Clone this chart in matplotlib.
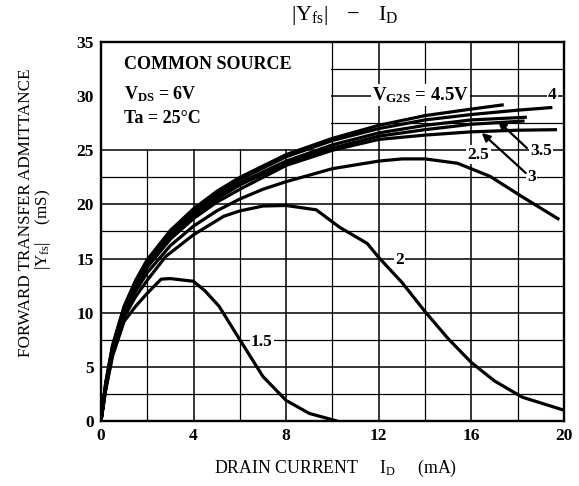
import matplotlib
matplotlib.use("Agg")
import matplotlib.pyplot as plt
from matplotlib.patches import Rectangle

plt.rcParams['font.family'] = ['Liberation Serif', 'DejaVu Serif']
plt.rcParams['mathtext.fontset'] = 'custom'
plt.rcParams['mathtext.rm'] = 'Liberation Serif'
plt.rcParams['mathtext.bf'] = 'Liberation Serif:bold'

# |Yfs| (mS) vs ID (mA) for each VG2S
x_45 = [0, 0.2, 0.5, 1, 1.5, 2, 3, 4, 5, 6, 8, 10, 12, 14, 16, 17.4]
y_45 = [0, 3.5, 7.0, 10.6, 13.0, 14.9, 17.6, 19.6, 21.2, 22.5, 24.6, 26.1, 27.3, 28.2, 28.8, 29.2]

x_4 = [0, 0.2, 0.5, 1, 1.5, 2, 3, 4, 5, 6, 8, 10, 12, 14, 16, 18, 19.5]
y_4 = [0, 3.4, 6.9, 10.5, 12.9, 14.8, 17.5, 19.5, 21.0, 22.3, 24.4, 25.9, 27.0, 27.8, 28.3, 28.7, 28.95]

x_x = [0, 0.2, 0.5, 1, 1.5, 2, 3, 4, 5, 6, 8, 10, 12, 14, 16, 18.4]
y_x = [0, 3.3, 6.8, 10.4, 12.8, 14.6, 17.3, 19.2, 20.7, 22.0, 24.0, 25.5, 26.6, 27.3, 27.8, 28.05]

x_35 = [0, 0.2, 0.5, 1, 1.5, 2, 3, 4, 5, 6, 8, 10, 12, 14, 16, 18.3]
y_35 = [0, 3.2, 6.7, 10.3, 12.6, 14.4, 17.1, 19.0, 20.5, 21.8, 23.8, 25.2, 26.3, 26.9, 27.4, 27.7]

x_3 = [0, 0.2, 0.5, 1, 1.5, 2, 3, 4, 5, 6, 8, 10, 12, 14, 16, 18, 19.7]
y_3 = [0, 3.1, 6.6, 10.2, 12.4, 14.2, 16.8, 18.7, 20.2, 21.4, 23.6, 25.0, 26.0, 26.4, 26.7, 26.85, 26.9]

x_25 = [0, 0.2, 0.5, 1, 1.5, 2, 3, 4, 5, 6, 7, 8, 10, 12, 13, 14, 15.4, 16.8, 18.2, 19.8]
y_25 = [0, 3.0, 6.4, 9.9, 12.0, 13.7, 16.2, 18.0, 19.4, 20.5, 21.4, 22.1, 23.3, 24.0, 24.2, 24.2, 23.8, 22.6, 20.7, 18.6]

x_2 = [0, 0.2, 0.5, 1, 1.5, 2, 2.8, 4, 5.3, 6, 7, 8, 9.3, 10.3, 11.5, 12, 13, 14, 15, 16, 17, 18.2, 20]
y_2 = [0, 2.9, 6.2, 9.6, 11.5, 13.0, 15.2, 17.2, 18.9, 19.4, 19.85, 19.9, 19.5, 17.9, 16.4, 15.1, 12.8, 10.1, 7.6, 5.4, 3.7, 2.2, 1.0]

x_15 = [0, 0.2, 0.5, 1, 1.5, 2, 2.6, 3, 4, 4.5, 5.1, 6, 7, 8, 9, 10.2]
y_15 = [0, 2.8, 6.0, 9.2, 10.6, 11.8, 13.1, 13.15, 12.9, 12.0, 10.6, 7.5, 4.1, 1.9, 0.7, 0]

curves = [(x_45, y_45), (x_4, y_4), (x_x, y_x), (x_35, y_35),
          (x_3, y_3), (x_25, y_25), (x_2, y_2), (x_15, y_15)]

fig = plt.figure(figsize=(5.79, 4.86), dpi=100)
ax = fig.add_axes([0.1744, 0.1337, 0.7996, 0.78])

ax.set_xlim(0, 20)
ax.set_ylim(0, 35)
ax.set_xticks([0, 4, 8, 12, 16, 20])
ax.set_yticks([0, 5, 10, 15, 20, 25, 30, 35])
ax.set_xticks(range(0, 21, 2), minor=True)
ax.set_yticks([2.5 * i for i in range(15)], minor=True)
ax.tick_params(which='both', length=0, labelsize=12.5, pad=5)
for lab in ax.get_xticklabels() + ax.get_yticklabels():
    lab.set_fontweight('bold')
ax.grid(which='major', color='black', lw=1.1)
ax.grid(which='minor', color='black', lw=0.9)
ax.set_axisbelow(True)
for s in ax.spines.values():
    s.set_linewidth(1.7)

# white box for the conditions text (hides the grid behind it)
ax.add_patch(Rectangle((0, 25.08), 9.95, 10, facecolor='white', edgecolor='none', zorder=1))
ax.text(1.0, 32.9, 'COMMON SOURCE', fontsize=13, fontweight='bold', va='center', zorder=2)
ax.text(1.0, 30.2, r'$\mathbf{V_{DS}}$ = 6V', fontsize=13, fontweight='bold', va='center', zorder=2)
ax.text(1.0, 27.9, 'Ta = 25°C', fontsize=13, fontweight='bold', va='center', zorder=2)

for xs, ys in curves:
    ax.plot(xs, ys, color='black', lw=2.3, zorder=3, solid_capstyle='butt')

bbox = dict(facecolor='white', edgecolor='none', pad=1)
lab_kw = dict(fontsize=12.5, fontweight='bold', ha='center', va='center', bbox=bbox, zorder=2)
ax.text(13.8, 30.1, r'$\mathbf{V_{G2S}}$ = 4.5V', **{**lab_kw, 'fontsize': 13.5})
ax.text(19.5, 30.1, '4', **lab_kw)
ax.text(16.3, 24.6, '2.5', **lab_kw)
ax.text(19.0, 24.9, '3.5', **lab_kw)
ax.text(18.6, 22.5, '3', **lab_kw)
ax.text(12.9, 14.9, '2', **lab_kw)
ax.text(6.95, 7.3, '1.5', **lab_kw)

arrow = dict(arrowstyle='-|>', color='black', lw=1.6, mutation_scale=12, shrinkA=0, shrinkB=0)
ax.annotate('', xy=(17.15, 27.7), xytext=(18.4, 25.2), arrowprops=arrow, zorder=4)
ax.annotate('', xy=(16.45, 26.6), xytext=(18.35, 22.9), arrowprops=arrow, zorder=4)

fig.text(0.596, 0.968, r'$|\mathrm{Y_{fs}}|\ \ -\ \ \mathrm{I_D}$', fontsize=16, ha='center', va='center')
fig.text(0.58, 0.037, r'DRAIN CURRENT     $\mathrm{I_D}$     (mA)', fontsize=12.8, ha='center', va='center')
fig.text(0.045, 0.563, 'FORWARD TRANSFER ADMITTANCE', fontsize=12.3, rotation=90, ha='center', va='center')
fig.text(0.074, 0.527, r'$|\mathrm{Y_{fs}}|$    (mS)', fontsize=12.3, rotation=90, ha='center', va='center')

fig.savefig('out.png', dpi=100)
